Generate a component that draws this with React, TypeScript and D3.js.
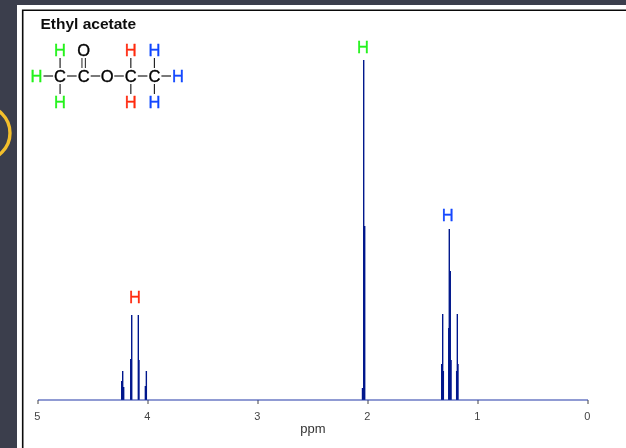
import React from "react";
import * as d3 from "d3";

const W = 626;
const H = 448;

const PPM_TICKS = [5, 4, 3, 2, 1, 0];
const X_LABEL = "ppm";
const TITLE = "Ethyl acetate";

// chemical shift (ppm) and intensity, drawn back to front
const QUARTET_PPM = [4.239, 4.23, 4.221, 4.157, 4.148, 4.088, 4.082, 4.024, 4.015];
const QUARTET_INT = [19, 29, 13, 41, 85, 85, 40, 14, 29];
const SINGLET_PPM = [2.05, 2.039, 2.03];
const SINGLET_INT = [12, 340, 174];
const TRIPLET_PPM = [1.33, 1.321, 1.315, 1.266, 1.261, 1.252, 1.245, 1.194, 1.188, 1.182];
const TRIPLET_INT = [36, 86, 29, 72, 171, 129, 40, 29, 86, 36];

const HYDROGEN_GREEN = "#22f21a";
const HYDROGEN_RED = "#ff2a10";
const HYDROGEN_BLUE = "#1246ff";

const PEAK_LABEL_PPM = [4.118, 2.045, 1.275];
const PEAK_LABEL_INT = [97, 347, 179];
const PEAK_LABEL_COLOR = [HYDROGEN_RED, HYDROGEN_GREEN, HYDROGEN_BLUE];

// structural formula on a col/row grid
const ATOM_TEXT = ["H", "O", "H", "H", "H", "C", "C", "O", "C", "C", "H", "H", "H", "H"];
const ATOM_COL = [1, 2, 4, 5, 0, 1, 2, 3, 4, 5, 6, 1, 4, 5];
const ATOM_ROW = [0, 0, 0, 0, 1, 1, 1, 1, 1, 1, 1, 2, 2, 2];
const ATOM_COLOR = [
  HYDROGEN_GREEN, "#000", HYDROGEN_RED, HYDROGEN_BLUE,
  HYDROGEN_GREEN, "#000", "#000", "#000", "#000", "#000", HYDROGEN_BLUE,
  HYDROGEN_GREEN, HYDROGEN_RED, HYDROGEN_BLUE,
];
const H_BOND_COL = [0, 1, 2, 3, 4, 5];
const V_BOND_COL = [1, 4, 5];

export default function App() {
  const x = d3.scaleLinear().domain([5, 0]).range([38, 588]);
  const y = d3.scaleLinear().domain([0, 340]).range([400, 60]);
  const col = d3.scaleLinear().domain([0, 6]).range([36.5, 178]);
  const row = d3.scaleLinear().domain([0, 2]).range([50, 102]);
  const sans = "'Liberation Sans', Arial, sans-serif";

  const peaks = [
    ...QUARTET_PPM.map((p, i) => [p, QUARTET_INT[i]]),
    ...SINGLET_PPM.map((p, i) => [p, SINGLET_INT[i]]),
    ...TRIPLET_PPM.map((p, i) => [p, TRIPLET_INT[i]]),
  ];

  return (
    <svg
      width={W}
      height={H}
      viewBox={`0 0 ${W} ${H}`}
      style={{ position: "absolute", left: 0, top: 0, display: "block" }}
    >
      <defs>
        <filter id="soft" x="-5%" y="-5%" width="110%" height="110%">
          <feGaussianBlur stdDeviation="0.3" />
        </filter>
      </defs>
      <rect width={W} height={H} fill="#3b3e4c" />
      <circle cx={-17} cy={133} r={27} fill="none" stroke="#f3bf2c" strokeWidth={3.4} />
      <rect x={17} y={5} width={W - 17} height={H - 5} fill="#fff" />
      <path d={`M22.7 ${H}V10.3H${W}`} fill="none" stroke="#0a0a0a" strokeWidth={1.6} />

      <g filter="url(#soft)">
        <text x={40.5} y={29} fontFamily={sans} fontSize={15.5} fontWeight={700} fill="#111">
          {TITLE}
        </text>

        {H_BOND_COL.map((c) => (
          <line key={c} x1={col(c) + 7} x2={col(c + 1) - 7}
            y1={row(1)} y2={row(1)} stroke="#222" strokeWidth={1.2} />
        ))}
        {V_BOND_COL.map((c) => (
          <g key={c} stroke="#222" strokeWidth={1.2}>
            <line x1={col(c)} x2={col(c)} y1={row(0) + 8} y2={row(1) - 8} />
            <line x1={col(c)} x2={col(c)} y1={row(1) + 8} y2={row(2) - 8} />
          </g>
        ))}
        <line x1={col(2) - 1.7} x2={col(2) - 1.7} y1={row(0) + 8} y2={row(1) - 8} stroke="#222" />
        <line x1={col(2) + 1.7} x2={col(2) + 1.7} y1={row(0) + 8} y2={row(1) - 8} stroke="#222" />
        {ATOM_TEXT.map((t, i) => (
          <text key={i} x={col(ATOM_COL[i])} y={row(ATOM_ROW[i]) + 6} textAnchor="middle"
            fontFamily={sans} fontSize={16.5} fill={ATOM_COLOR[i]}
            stroke={ATOM_COLOR[i]} strokeWidth={0.35}>
            {t}
          </text>
        ))}

        {PEAK_LABEL_PPM.map((p, i) => (
          <text key={i} x={x(p)} y={y(PEAK_LABEL_INT[i])} textAnchor="middle"
            fontFamily={sans} fontSize={16.5} fill={PEAK_LABEL_COLOR[i]}
            stroke={PEAK_LABEL_COLOR[i]} strokeWidth={0.3}>
            H
          </text>
        ))}

        {PPM_TICKS.map((t) => (
          <g key={t}>
            <line x1={x(t)} x2={x(t)} y1={400} y2={404} stroke="#444" strokeWidth={1} />
            <text x={x(t) - 0.8} y={420} textAnchor="middle" fontFamily={sans} fontSize={11} fill="#444">
              {t}
            </text>
          </g>
        ))}
        <text x={313} y={433} textAnchor="middle" fontFamily={sans} fontSize={13} fill="#333">
          {X_LABEL}
        </text>

        {peaks.map(([p, v], i) => (
          <line key={i} x1={x(p)} x2={x(p)} y1={y(0)} y2={y(v)} stroke="#00148c" strokeWidth={1.4} />
        ))}
        <line x1={x(5)} x2={x(0)} y1={400} y2={400} stroke="#2238a8" strokeWidth={1.2} />
      </g>
    </svg>
  );
}
